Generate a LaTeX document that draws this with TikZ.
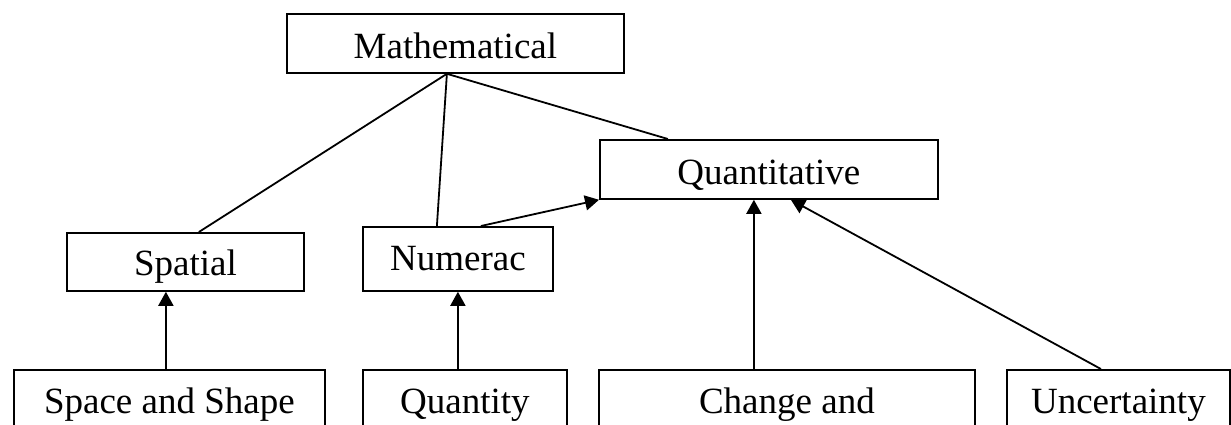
\documentclass[tikz,border=0pt]{standalone}
\usepackage{fontspec}
\setmainfont{Liberation Serif}
\usetikzlibrary{arrows.meta}
\tikzset{
  box/.style={draw=black, line width=1.8pt, inner xsep=0pt, inner ysep=0pt, anchor=north west,
    font=\fontsize{37pt}{44pt}\selectfont, text=black},
  link/.style={draw=black, line width=1.8pt},
  arr/.style={link, -{Triangle[width=15pt,length=14pt]}}
}
\begin{document}
\begin{tikzpicture}[x=1pt,y=-1pt]
\path[use as bounding box, clip] (0,0) rectangle (1231,425);
\fill[white] (0,0) rectangle (1231,425);
% upper boxes
\node[box, minimum width=337pt, text height=45pt, text depth=14pt] (math) at (286,13) {Mathematical};
\node[box, minimum width=338pt, text height=45pt, text depth=14pt] (quant) at (599,139) {Quantitative};
\node[box, minimum width=237pt, text height=43pt, text depth=15pt] (spatial) at (66,232) {Spatial};
\node[box, minimum width=190pt, text height=44pt, text depth=20pt] (numerac) at (362,226) {Numerac};
% bottom boxes
\node[box, minimum width=311pt, text height=44pt, text depth=30pt] (sas) at (13,369) {Space and Shape};
\node[box, minimum width=204pt, text height=44pt, text depth=30pt] (quantity) at (362,369) {Quantity};
\node[box, minimum width=376pt, text height=44pt, text depth=30pt] (change) at (598,369) {Change and};
\node[box, minimum width=223pt, text height=44pt, text depth=30pt] (unc) at (1006,369) {Uncertainty};
% lines from Mathematical
\draw[link] ([xshift=-8.5pt]math.south) -- ([xshift=13.5pt]spatial.north);
\draw[link] ([xshift=-8.5pt]math.south) -- ([xshift=-21pt]numerac.north);
\draw[link] ([xshift=-8.5pt]math.south) -- ([xshift=-101pt]quant.north);
% arrows
\draw[arr] ([xshift=23pt]numerac.north) -- (quant.south west);
\draw[arr] ([xshift=-3.5pt]sas.north) -- ([xshift=-19.5pt]spatial.south);
\draw[arr] ([xshift=-7pt]quantity.north) -- (numerac.south);
\draw[arr] ([xshift=-33pt]change.north) -- ([xshift=-15pt]quant.south);
\draw[arr] ([xshift=-17.5pt]unc.north) -- ([xshift=22pt]quant.south);
\end{tikzpicture}
\end{document}
